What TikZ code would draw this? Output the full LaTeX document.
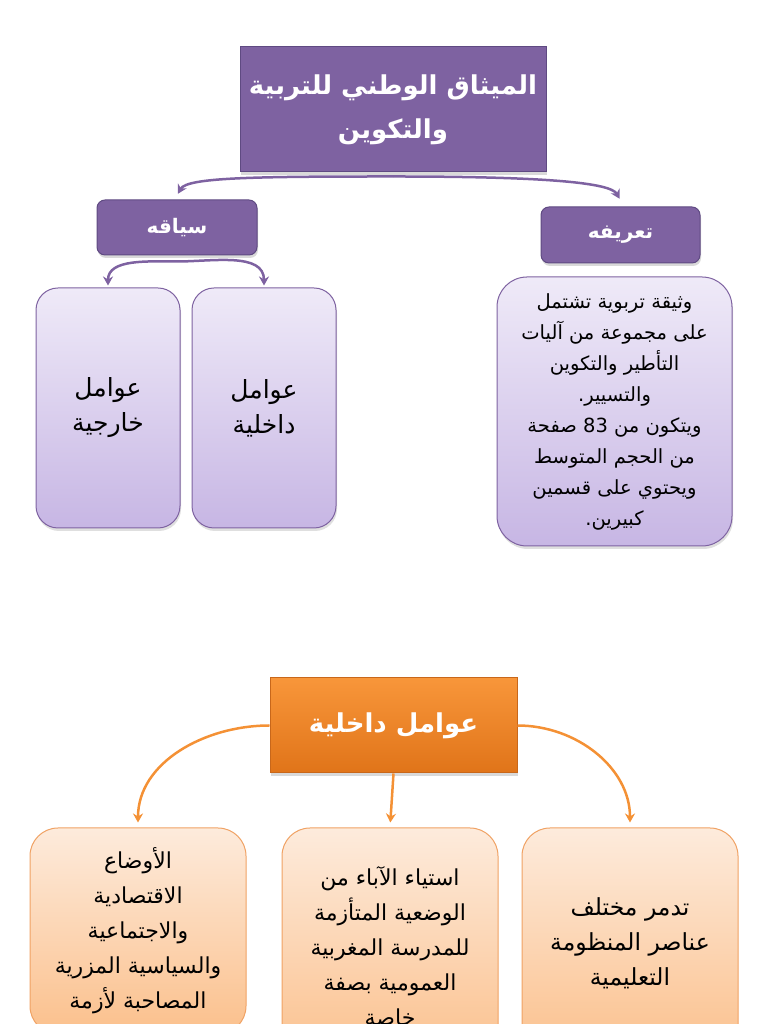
\documentclass[tikz,border=0pt]{standalone}
\usepackage{fontspec}
\usepackage{xcolor}
\usepackage{tikz}
\usetikzlibrary{arrows.meta,shadows}
\TeXXeTstate=1
\newfontfamily\arabicfont[Script=Arabic]{DejaVu Sans}
\definecolor{violethead}{HTML}{7E62A1}
\definecolor{violetedge}{HTML}{5F4A82}
\definecolor{lavendertop}{HTML}{EFEAF8}
\definecolor{lavenderbot}{HTML}{C7B6E4}
\definecolor{orangetop}{HTML}{F8963A}
\definecolor{orangebot}{HTML}{E07419}
\definecolor{orangeedge}{HTML}{C8671A}
\definecolor{peachtop}{HTML}{FDEBDC}
\definecolor{peachbot}{HTML}{FBC08C}
\definecolor{peachedge}{HTML}{F0A264}
\newcommand{\arl}[1]{\beginR #1\endR}

\begin{document}
\begin{tikzpicture}[x=1pt,y=1pt,>={Stealth[length=9pt,width=10pt]},
    headbox/.style={draw=violetedge,line width=1pt,fill=violethead,text=white,align=center,inner sep=2pt,
      drop shadow={opacity=0.3,shadow xshift=1pt,shadow yshift=-3pt}},
    tagbox/.style={headbox,rounded corners=8pt,font=\arabicfont\bfseries\fontsize{20}{24}\selectfont},
    lilacbox/.style={draw=violethead,line width=1pt,rounded corners=22pt,top color=lavendertop,bottom color=lavenderbot,
      align=center,inner sep=2pt,drop shadow={opacity=0.25,shadow xshift=1pt,shadow yshift=-3pt}},
    peachbox/.style={draw=peachedge,line width=1pt,rounded corners=28pt,top color=peachtop,bottom color=peachbot,
      align=center,inner sep=2pt,minimum width=216pt,font=\arabicfont\fontsize{22}{35}\selectfont},
    violetlink/.style={draw=violethead,line width=2.5pt,->,shorten >=2pt},
    orangelink/.style={draw=orangetop!85!orangebot,line width=2.5pt,->,shorten >=5pt}]
  \useasboundingbox (0,0) rectangle (768,1024);
  \clip (0,0) rectangle (768,1024);
  % upper map
  \node[headbox,minimum width=306pt,minimum height=125pt,font=\arabicfont\bfseries\fontsize{26}{44}\selectfont]
    (charter) at (393,914.5) {\arl{الميثاق الوطني للتربية}\\\arl{والتكوين}};
  \node[tagbox,minimum width=160pt,minimum height=55pt] (context) at (177,796.5) {\arl{سياقه}};
  \node[tagbox,minimum width=159pt,minimum height=56pt] (definition) at (620.5,789) {\arl{تعريفه}};
  \node[lilacbox,minimum width=144pt,minimum height=240pt,font=\arabicfont\fontsize{25}{35}\selectfont]
    (external) at (108,616) {\arl{عوامل}\\\arl{خارجية}};
  \node[lilacbox,minimum width=144pt,minimum height=240pt,font=\arabicfont\fontsize{25}{35}\selectfont]
    (internal) at (264,616) {\arl{عوامل}\\\arl{داخلية}};
  \node[lilacbox,rounded corners=30pt,minimum width=235pt,minimum height=269pt,font=\arabicfont\fontsize{19.5}{31}\selectfont]
    (deftext) at (614.5,612.5) {\arl{وثيقة تربوية تشتمل}\\\arl{على مجموعة من آليات}\\\arl{التأطير والتكوين}\\\arl{والتسيير.}\\
      \arl{ويتكون من \beginL 83\endL{} صفحة}\\\arl{من الحجم المتوسط}\\\arl{ويحتوي على قسمين}\\\arl{كبيرين.}};
  \draw[violetlink] ([yshift=-4pt]charter.south) .. controls +(-140,0) and +(10,18) .. ([yshift=4pt]context.north);
  \draw[violetlink] ([yshift=-4pt]charter.south) .. controls +(150,0) and +(-10,18) .. ([yshift=6pt]definition.north);
  \draw[violetlink] ([yshift=-6pt]context.south) to[out=180,in=90] (external.north);
  \draw[violetlink] ([yshift=-6pt]context.south) to[out=0,in=90] (internal.north);
  % lower map
  \node[draw=orangeedge,line width=1pt,top color=orangetop,bottom color=orangebot,text=white,minimum width=247pt,minimum height=95pt,
    font=\arabicfont\bfseries\fontsize{26}{32}\selectfont,drop shadow={opacity=0.3,shadow xshift=1pt,shadow yshift=-3pt}]
    (inner) at (393.5,298.5) {\arl{عوامل داخلية}};
  \node[peachbox,minimum height=206pt] (conditions) at (138,93)
    {\arl{الأوضاع}\\\arl{الاقتصادية}\\\arl{والاجتماعية}\\\arl{والسياسية المزرية}\\\arl{المصاحبة لأزمة}};
  \node[peachbox,minimum height=236pt] (parents) at (390,78)
    {\arl{استياء الآباء من}\\\arl{الوضعية المتأزمة}\\\arl{للمدرسة المغربية}\\\arl{العمومية بصفة}\\\arl{خاصة}};
  \node[peachbox,minimum height=230pt,font=\arabicfont\fontsize{23.5}{35}\selectfont] (system) at (630,81)
    {\arl{تدمر مختلف}\\\arl{عناصر المنظومة}\\\arl{التعليمية}};
  \draw[orangelink] (inner.west) to[out=180,in=90] (conditions.north);
  \draw[orangelink] (inner.south) -- (parents.north);
  \draw[orangelink] (inner.east) to[out=0,in=90] (system.north);
\end{tikzpicture}
\end{document}
